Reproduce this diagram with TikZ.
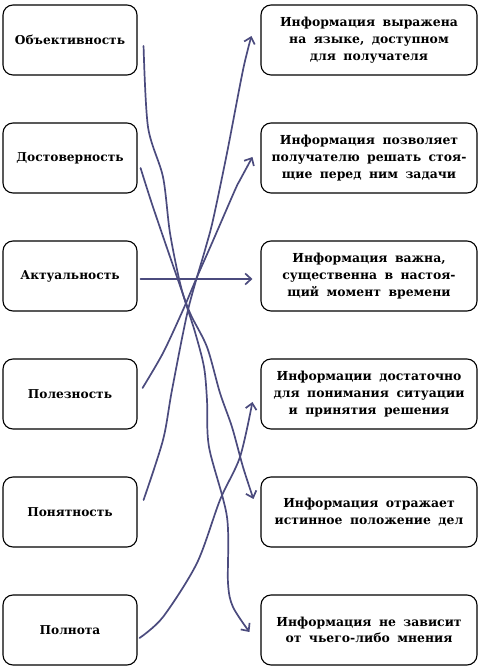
\documentclass[tikz,border=0pt]{standalone}
\usepackage{fontspec}
\setmainfont{DejaVu Serif}
\usetikzlibrary{arrows.meta}
\definecolor{pen}{HTML}{4B4B7E}
\tikzstyle{prop}=[rectangle, draw, line width=1.1pt, rounded corners=10pt, minimum width=134pt, minimum height=70pt, font=\bfseries\fontsize{12.2}{14}\selectfont]
\tikzstyle{def}=[rectangle, draw, line width=1.1pt, rounded corners=10pt, minimum width=216pt, minimum height=70pt, text width=206pt, align=center, font=\bfseries\fontsize{12.4}{16.7}\selectfont, execute at begin node={\spaceskip=0.6em\relax}]
\tikzstyle{arrow}=[draw=pen, line width=1.7pt, line cap=round, line join=round, -{Straight Barb[length=6pt, width=11pt]}]

\begin{document}
\begin{tikzpicture}[x=1pt, y=1pt, node distance=118pt]
		\useasboundingbox (0,0) rectangle (480,667);
		\node (prop1) [prop] at (70,627) {Объективность};
		\node (prop2) [prop, below of=prop1] {Достоверность};
		\node (prop3) [prop, below of=prop2] {Актуальность};
		\node (prop4) [prop, below of=prop3] {Полезность};
		\node (prop5) [prop, below of=prop4] {Понятность};
		\node (prop6) [prop, below of=prop5] {Полнота};
		\node (def1) [def, right of=prop1, xshift=181pt] {Информация выражена\\на языке, доступном\\для получателя};
		\node (def2) [def, right of=prop2, xshift=181pt] {Информация позволяет\\получателю решать стоя-\\щие перед ним задачи};
		\node (def3) [def, right of=prop3, xshift=181pt] {Информация важна,\\существенна в настоя-\\щий момент времени};
		\node (def4) [def, right of=prop4, xshift=181pt] {Информации достаточно\\для понимания ситуации\\и принятия решения};
		\node (def5) [def, right of=prop5, xshift=181pt] {Информация отражает\\истинное положение дел};
		\node (def6) [def, right of=prop6, xshift=181pt] {Информация не зависит\\от чьего-либо мнения};
		
		\draw[arrow] plot[smooth, tension=0.5] coordinates {([xshift=6pt, yshift=-6pt]prop1.east) (148,540) (163,490) (170,434) (181,380) (195,335) (204,300) (207,267) (209,220) (227,150) (228,84) (233,60) ([xshift=-11pt, yshift=-2pt]def6.west)};
		\draw[arrow] plot[smooth, tension=0.5] coordinates {([xshift=3pt, yshift=-10pt]prop2.east) (153,460) (177,390) (190,354) (207,320) (220,274) (232,240) (243,200) ([xshift=-7pt, yshift=13pt]def5.west)};
		\draw[arrow] ([xshift=3pt, yshift=-3pt]prop3.east) -- ([xshift=-8pt, yshift=-3pt]def3.west);
		\draw[arrow] plot[smooth, tension=0.5] coordinates {([xshift=5pt, yshift=6pt]prop4.east) (163,314) (183,357) (197,390) (212,424) (235,477) (240,487) ([xshift=-8pt, yshift=1pt]def2.west)};
		\draw[arrow] plot[smooth, tension=0.5] coordinates {([xshift=6pt, yshift=12pt]prop5.east) (163,227) (172,277) (188,357) (205,417) (213,447) (227,514) (243,597) ([xshift=-9pt, yshift=4pt]def1.west)};
		\draw[arrow] plot[smooth, tension=0.5] coordinates {([xshift=2pt, yshift=-8pt]prop6.east) (163,50) (197,104) (220,167) (240,210) ([xshift=-8pt, yshift=-8pt]def4.west)};
		
\end{tikzpicture}
\end{document}
